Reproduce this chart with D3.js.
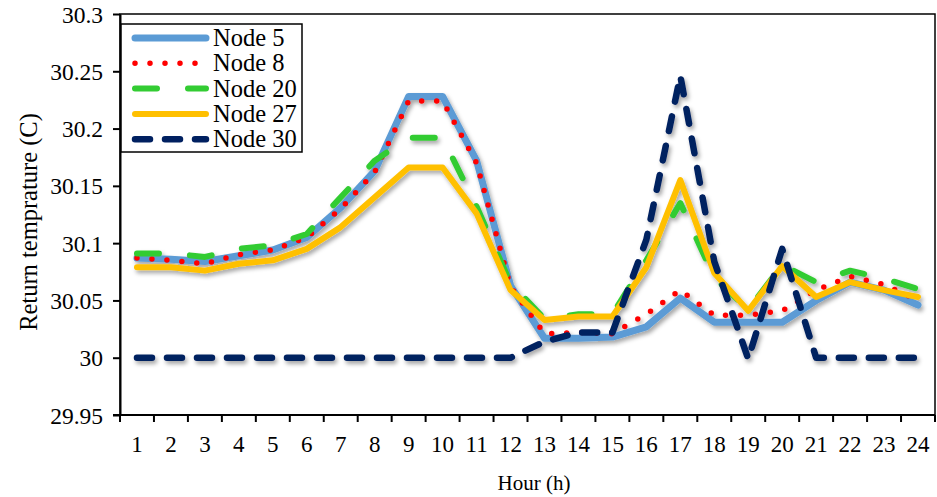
<!DOCTYPE html>
<html>
<head>
<meta charset="utf-8">
<script src="https://cdn.jsdelivr.net/npm/d3@7"></script>
<style>
  body { margin: 0; background: #fff; }
  svg text { font-family: 'Liberation Serif', 'Times New Roman', 'DejaVu Serif', serif; fill: #000; }
</style>
</head>
<body>
<svg id="chart" width="937" height="497"></svg>
<script>
// hours on the x axis
const hours = d3.range(1, 25)
const yTicks = [29.95, 30, 30.05, 30.1, 30.15, 30.2, 30.25, 30.3]

// return temperature per node
const node5 = [30.087, 30.086, 30.084, 30.089, 30.094, 30.105, 30.131, 30.163, 30.228, 30.228, 30.172, 30.063,
  30.017, 30.017, 30.018, 30.027, 30.052, 30.031, 30.031, 30.031, 30.050, 30.066, 30.059, 30.046]
const node8 = [30.087, 30.085, 30.082, 30.090, 30.094, 30.105, 30.130, 30.162, 30.224, 30.224, 30.170, 30.062,
  30.021, 30.022, 30.021, 30.038, 30.059, 30.037, 30.037, 30.041, 30.059, 30.071, 30.064, 30.050]
const node20 = [30.091, 30.091, 30.088, 30.095, 30.098, 30.108, 30.140, 30.172, 30.192, 30.192, 30.132, 30.065,
  30.034, 30.038, 30.038, 30.085, 30.135, 30.070, 30.042, 30.081, 30.066, 30.076, 30.069, 30.060]
const node27 = [30.079, 30.079, 30.076, 30.082, 30.085, 30.095, 30.114, 30.140, 30.166, 30.166, 30.126, 30.059,
  30.033, 30.036, 30.036, 30.079, 30.155, 30.074, 30.041, 30.080, 30.053, 30.066, 30.059, 30.053]
const node30 = [30, 30, 30, 30, 30, 30, 30, 30, 30, 30, 30, 30,
  30.014, 30.022, 30.022, 30.103, 30.246, 30.084, 29.999, 30.095, 30, 30, 30, 30]

const seriesNames = ['Node 5', 'Node 8', 'Node 20', 'Node 27', 'Node 30']
const seriesValues = [node5, node8, node20, node27, node30]

const styles = {
  'Node 5': {color: '#5B9BD5', width: 7, dash: null},
  'Node 8': {color: '#FF0000', width: 5.5, dash: '0 15'},
  'Node 20': {color: '#33CC33', width: 6, dash: '22 31'},
  'Node 27': {color: '#FFC000', width: 6, dash: null},
  'Node 30': {color: '#002060', width: 6.5, dash: '15 15'}
}

const FONT = "'Liberation Serif', 'Times New Roman', 'DejaVu Serif', serif"

const svg = d3.select('#chart')
const plot = {left: 120, right: 935, top: 14, bottom: 415}

const x = d3.scaleBand().domain(hours).range([plot.left, plot.right]).padding(0)
const y = d3.scaleLinear().domain([29.95, 30.3]).range([plot.bottom, plot.top])

// drop shadow under the lines
const defs = svg.append('defs')
defs.append('filter')
  .attr('id', 'shadow')
  .attr('x', '-10%').attr('y', '-10%').attr('width', '120%').attr('height', '130%')
  .append('feDropShadow')
  .attr('dx', 2).attr('dy', 3).attr('stdDeviation', 2.2)
  .attr('flood-color', '#000').attr('flood-opacity', 0.35)

// frame
svg.append('rect')
  .attr('x', plot.left).attr('y', plot.top)
  .attr('width', plot.right - plot.left).attr('height', plot.bottom - plot.top)
  .attr('fill', 'none').attr('stroke', '#000').attr('stroke-width', 1.5)

// y axis
const yAxis = svg.append('g')
  .attr('transform', `translate(${plot.left},0)`)
  .call(d3.axisLeft(y).tickValues(yTicks).tickSize(7).tickSizeOuter(0).tickFormat(d3.format('')))
yAxis.attr('font-family', FONT).attr('font-size', 23.5)
yAxis.select('.domain').attr('stroke-width', 2)
yAxis.selectAll('.tick line').attr('stroke-width', 2)
yAxis.selectAll('.tick text').attr('x', -17).attr('dy', '0.34em')

// x axis: ticks on band edges, labels at band centres
const xAxis = svg.append('g').attr('transform', `translate(0,${plot.bottom})`)
  .attr('font-family', FONT)
xAxis.append('line')
  .attr('x1', plot.left - 7).attr('x2', plot.right)
  .attr('stroke', '#000').attr('stroke-width', 2)
xAxis.selectAll('.xtick')
  .data(hours.map(h => x(h)).concat([plot.right]))
  .join('line')
  .attr('class', 'xtick')
  .attr('x1', d => d).attr('x2', d => d)
  .attr('y1', 0).attr('y2', 7)
  .attr('stroke', '#000').attr('stroke-width', 2)
xAxis.selectAll('.xlabel')
  .data(hours)
  .join('text')
  .attr('class', 'xlabel')
  .attr('x', d => x(d) + x.bandwidth() / 2)
  .attr('y', 37)
  .attr('text-anchor', 'middle')
  .attr('font-size', 23)
  .text(d => d)

// axis titles
svg.append('text')
  .attr('x', 534).attr('y', 490)
  .attr('text-anchor', 'middle').attr('font-size', 21)
  .text('Hour (h)')
svg.append('text')
  .attr('transform', 'translate(37,222) rotate(-90)')
  .attr('text-anchor', 'middle').attr('font-size', 24.5)
  .text('Return temprature (C)')

// lines
const line = d3.line()
  .x((d, i) => x(hours[i]) + x.bandwidth() / 2)
  .y(d => y(d))

const lines = svg.append('g').attr('filter', 'url(#shadow)')
seriesNames.forEach((name, k) => {
  const s = styles[name]
  lines.append('path')
    .datum(seriesValues[k])
    .attr('d', line)
    .attr('fill', 'none')
    .attr('stroke', s.color)
    .attr('stroke-width', s.width)
    .attr('stroke-linecap', 'round')
    .attr('stroke-linejoin', 'round')
    .attr('stroke-dasharray', s.dash)
})

// legend
const legend = svg.append('g')
legend.append('rect')
  .attr('x', 121).attr('y', 24).attr('width', 181).attr('height', 128)
  .attr('fill', '#fff').attr('stroke', '#000').attr('stroke-width', 1.5)
seriesNames.forEach((name, k) => {
  const s = styles[name]
  const ly = 38 + k * 25.3
  legend.append('line')
    .attr('x1', 135).attr('x2', 206).attr('y1', ly).attr('y2', ly)
    .attr('stroke', s.color)
    .attr('stroke-width', s.width)
    .attr('stroke-linecap', 'round')
    .attr('stroke-dasharray', s.dash)
  legend.append('text')
    .attr('x', 213).attr('y', ly + 8)
    .attr('font-size', 24.5)
    .text(name)
})
</script>
</body>
</html>
